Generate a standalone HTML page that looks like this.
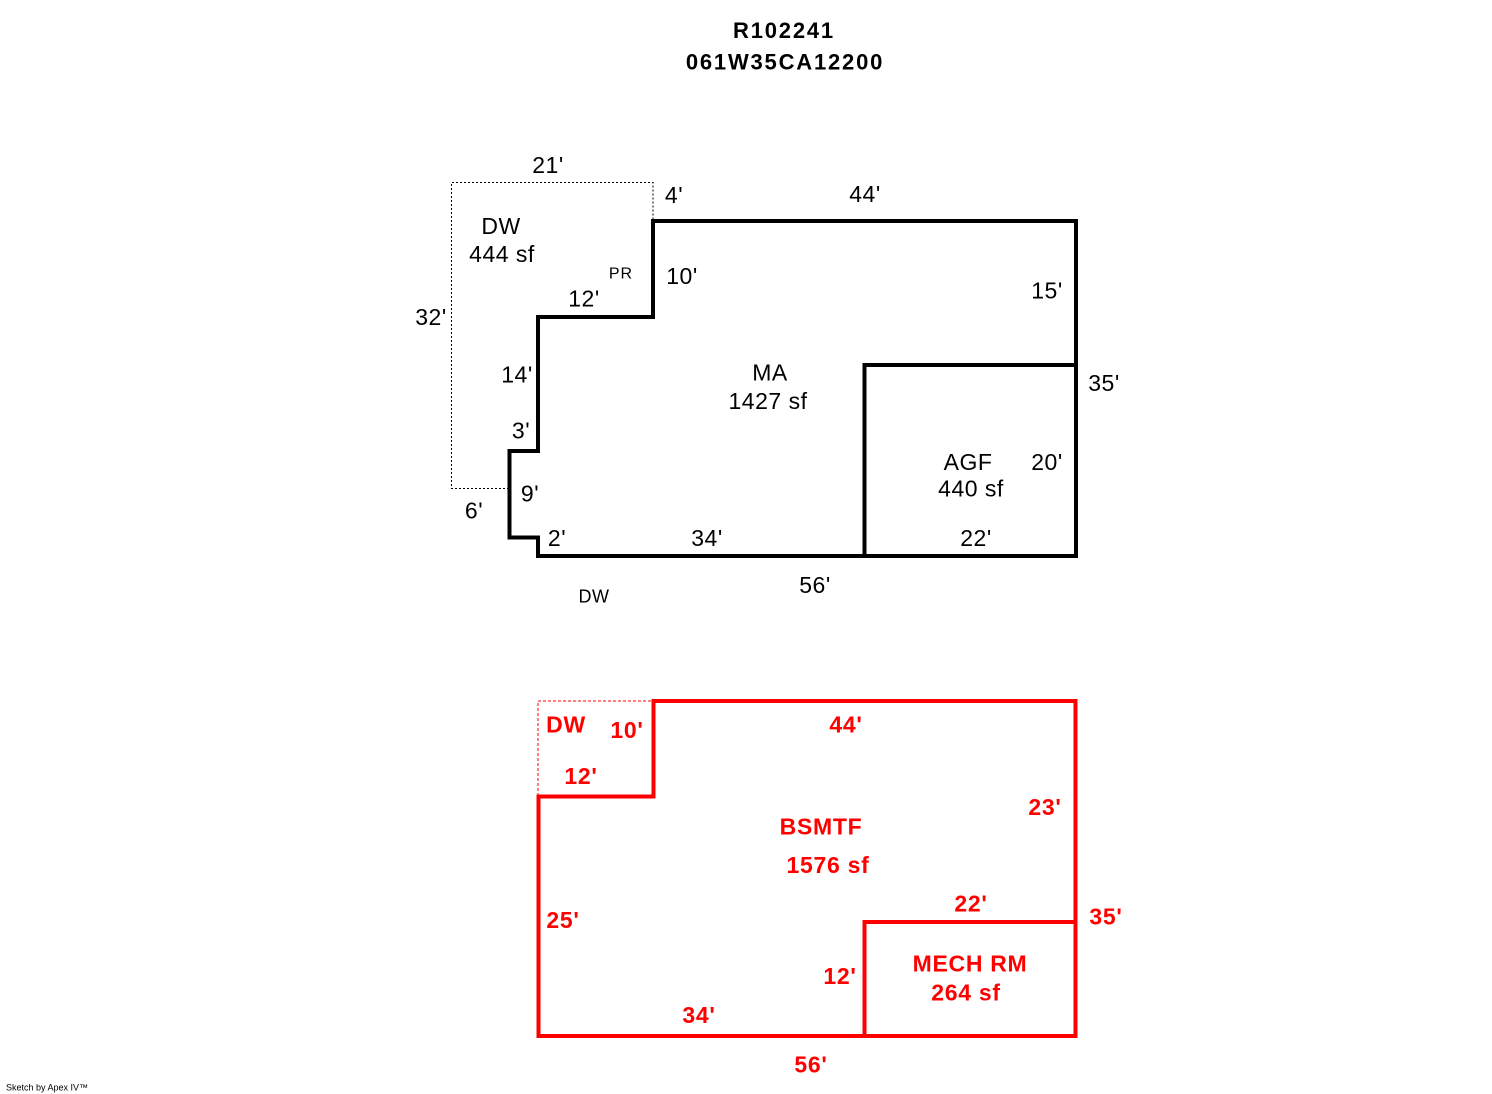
<!DOCTYPE html>
<html>
<head>
<meta charset="utf-8">
<style>
  html, body { margin: 0; padding: 0; background: #ffffff; }
  body { width: 1492px; height: 1094px; overflow: hidden; }
  svg { display: block; }
  .r { font-family: "Liberation Sans", Arial, sans-serif; font-size: 23px; fill: #000; letter-spacing: 0.5px; }
  .b { font-family: "Liberation Sans", Arial, sans-serif; font-size: 23px; font-weight: bold; fill: #ff0000; letter-spacing: 0.7px; }
  .t { font-family: "Liberation Sans", Arial, sans-serif; font-size: 22px; font-weight: bold; fill: #000; letter-spacing: 1.8px; }
</style>
</head>
<body>
<svg width="1492" height="1094" viewBox="0 0 1492 1094" xmlns="http://www.w3.org/2000/svg">
  <!-- Title -->
  <text class="t" x="784" y="38" text-anchor="middle">R102241</text>
  <text class="t" x="785" y="69.5" text-anchor="middle">061W35CA12200</text>

  <!-- ===== Top sketch (black) ===== -->
  <!-- DW dotted outline -->
  <path d="M509,488.5 L451.5,488.5 L451.5,182.5 L653,182.5 L653,221" fill="none" stroke="#000" stroke-width="1" stroke-dasharray="2,2"/>
  <!-- Main outline -->
  <path d="M653,221 L1076,221 L1076,556 L538,556 L538,537.5 L509.5,537.5 L509.5,451 L538,451 L538,317 L653,317 Z" fill="none" stroke="#000" stroke-width="4" stroke-linejoin="miter"/>
  <!-- AGF -->
  <path d="M1076,365 L864.5,365 L864.5,556" fill="none" stroke="#000" stroke-width="4" stroke-linejoin="miter"/>

  <!-- Labels top -->
  <text class="r" x="548" y="173" text-anchor="middle">21'</text>
  <text class="r" x="674" y="203" text-anchor="middle">4'</text>
  <text class="r" x="865" y="202" text-anchor="middle">44'</text>
  <text class="r" x="501" y="234" text-anchor="middle">DW</text>
  <text class="r" x="502" y="262" text-anchor="middle">444 sf</text>
  <text class="r" x="621" y="278.5" text-anchor="middle" style="font-size:16px;letter-spacing:1px">PR</text>
  <text class="r" x="682" y="284" text-anchor="middle">10'</text>
  <text class="r" x="584" y="306.5" text-anchor="middle">12'</text>
  <text class="r" x="431" y="325" text-anchor="middle">32'</text>
  <text class="r" x="1047" y="298.5" text-anchor="middle">15'</text>
  <text class="r" x="1104" y="391" text-anchor="middle">35'</text>
  <text class="r" x="517" y="382.5" text-anchor="middle">14'</text>
  <text class="r" x="521" y="438.5" text-anchor="middle">3'</text>
  <text class="r" x="530" y="501.5" text-anchor="middle">9'</text>
  <text class="r" x="474" y="518.5" text-anchor="middle">6'</text>
  <text class="r" x="557" y="546" text-anchor="middle">2'</text>
  <text class="r" x="707" y="546" text-anchor="middle">34'</text>
  <text class="r" x="976" y="546" text-anchor="middle">22'</text>
  <text class="r" x="815" y="593" text-anchor="middle">56'</text>
  <text class="r" x="594" y="602.5" text-anchor="middle" style="font-size:18px;letter-spacing:0.5px">DW</text>
  <text class="r" x="770" y="380.5" text-anchor="middle">MA</text>
  <text class="r" x="768" y="409" text-anchor="middle">1427 sf</text>
  <text class="r" x="968" y="470" text-anchor="middle">AGF</text>
  <text class="r" x="971" y="496.5" text-anchor="middle">440 sf</text>
  <text class="r" x="1047" y="470" text-anchor="middle">20'</text>

  <!-- ===== Bottom sketch (red) ===== -->
  <path d="M538,796 L538,701 L653,701" fill="none" stroke="#ff0000" stroke-width="1" stroke-dasharray="3,2"/>
  <path d="M653.5,701 L1075.5,701 L1075.5,1036 L538.5,1036 L538.5,796.5 L653.5,796.5 Z" fill="none" stroke="#ff0000" stroke-width="4" stroke-linejoin="miter"/>
  <path d="M1075.5,922 L864.5,922 L864.5,1036" fill="none" stroke="#ff0000" stroke-width="4" stroke-linejoin="miter"/>

  <text class="b" x="566" y="732.5" text-anchor="middle">DW</text>
  <text class="b" x="627" y="738" text-anchor="middle">10'</text>
  <text class="b" x="581" y="784" text-anchor="middle">12'</text>
  <text class="b" x="846" y="732.5" text-anchor="middle">44'</text>
  <text class="b" x="1045" y="815" text-anchor="middle">23'</text>
  <text class="b" x="821" y="834.5" text-anchor="middle">BSMTF</text>
  <text class="b" x="828" y="873" text-anchor="middle">1576 sf</text>
  <text class="b" x="563" y="928" text-anchor="middle">25'</text>
  <text class="b" x="971" y="911.5" text-anchor="middle">22'</text>
  <text class="b" x="1106" y="924.5" text-anchor="middle">35'</text>
  <text class="b" x="970" y="971.5" text-anchor="middle">MECH RM</text>
  <text class="b" x="966" y="1000.5" text-anchor="middle">264 sf</text>
  <text class="b" x="840" y="984" text-anchor="middle">12'</text>
  <text class="b" x="699" y="1023" text-anchor="middle">34'</text>
  <text class="b" x="811" y="1072.5" text-anchor="middle">56'</text>

  <!-- Footer -->
  <text x="6" y="1090.5" style="font-family:'Liberation Sans',Arial,sans-serif;font-size:9px;fill:#000">Sketch by Apex IV™</text>
</svg>
</body>
</html>
